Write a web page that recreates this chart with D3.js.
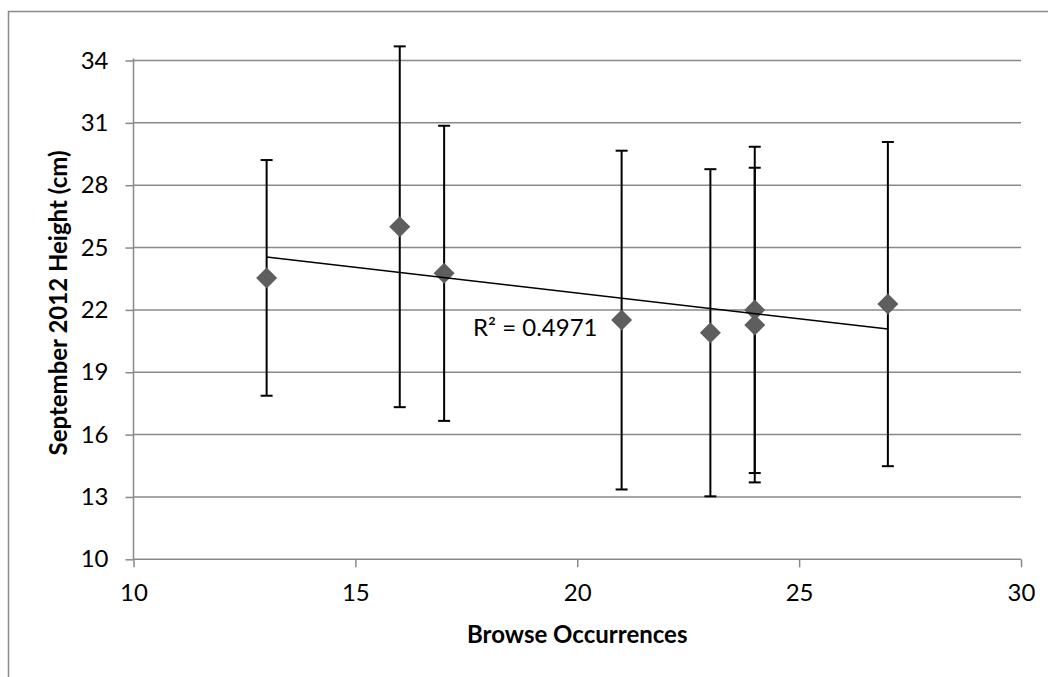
<!DOCTYPE html>
<html>
<head>
<meta charset="utf-8">
<script src="https://cdn.jsdelivr.net/npm/d3@7"></script>
<style>
  html, body { margin: 0; padding: 0; background: #fff; }
  svg { display: block; font-family: Lato, "Open Sans", sans-serif; }
</style>
</head>
<body>
<svg id="chart" width="1048" height="677"></svg>
<script>
// Browse occurrences per plant and mean September 2012 height (cm) with ± error
const browse = [13, 16, 17, 21, 23, 24, 24, 27];
const heights = [23.54, 26.0, 23.76, 21.51, 20.90, 22.0, 21.27, 22.28];
const errors = [5.67, 8.68, 7.10, 8.15, 7.87, 7.85, 7.57, 7.80];

const xTicks = [10, 15, 20, 25, 30];
const yTicks = [10, 13, 16, 19, 22, 25, 28, 31, 34];
const rSquaredLabel = "R² = 0.4971";
const xTitle = "Browse Occurrences";
const yTitle = "September 2012 Height (cm)";

const svg = d3.select("#chart");
const gridColor = "#898989";
const fontSize = 24;

const x = d3.scaleLinear().domain([10, 30]).range([133.5, 1021]);
const y = d3.scaleLinear().domain([10, 34]).range([559.3, 60.5]);

// chart frame
svg.append("rect")
  .attr("x", 8.5).attr("y", 11.5)
  .attr("width", 1100).attr("height", 700)
  .attr("fill", "none").attr("stroke", gridColor).attr("stroke-width", 1.5);

// horizontal gridlines
svg.append("g")
  .selectAll("line")
  .data(yTicks.filter(v => v !== 10))
  .join("line")
  .attr("x1", x(10)).attr("x2", x(30))
  .attr("y1", d => y(d)).attr("y2", d => y(d))
  .attr("stroke", gridColor).attr("stroke-width", 1.5);

// y axis
const yAxis = d3.axisLeft(y).tickValues(yTicks).tickSize(8).tickPadding(17).tickFormat(d3.format("d"));
const gy = svg.append("g").attr("transform", `translate(${x(10)},0)`).call(yAxis);
gy.select(".domain").attr("stroke", gridColor).attr("stroke-width", 1.5)
  .attr("d", `M0,${y(10)}V${y(34) - 2}`);
gy.selectAll(".tick line").attr("stroke", gridColor).attr("stroke-width", 1.5);
gy.selectAll(".tick text").attr("font-size", fontSize).attr("fill", "#000")
  .attr("font-family", "Lato, sans-serif");

// x axis
const xAxis = d3.axisBottom(x).tickValues(xTicks).tickSize(8).tickPadding(17).tickFormat(d3.format("d"));
const gx = svg.append("g").attr("transform", `translate(0,${y(10)})`).call(xAxis);
gx.select(".domain").attr("stroke", gridColor).attr("stroke-width", 1.5)
  .attr("d", `M${x(10)},0H${x(30)}`);
gx.selectAll(".tick line").attr("stroke", gridColor).attr("stroke-width", 1.5);
gx.selectAll(".tick text").attr("font-size", fontSize).attr("fill", "#000")
  .attr("font-family", "Lato, sans-serif");

// axis titles
svg.append("text")
  .attr("x", (x(10) + x(30)) / 2).attr("y", 643)
  .attr("text-anchor", "middle")
  .attr("font-size", fontSize).attr("font-weight", "bold")
  .text(xTitle);

svg.append("text")
  .attr("transform", `translate(67,303) rotate(-90)`)
  .attr("text-anchor", "middle")
  .attr("font-size", fontSize).attr("font-weight", "bold")
  .text(yTitle);

const points = browse.map((b, i) => ({ b, h: heights[i], e: errors[i] }));

// error bars
const eb = svg.append("g").attr("stroke", "#000").attr("stroke-width", 2);
eb.selectAll("line.stem").data(points).join("line").attr("class", "stem")
  .attr("x1", d => x(d.b)).attr("x2", d => x(d.b))
  .attr("y1", d => y(d.h - d.e)).attr("y2", d => y(d.h + d.e));
eb.selectAll("line.cap-top").data(points).join("line").attr("class", "cap-top")
  .attr("x1", d => x(d.b) - 6).attr("x2", d => x(d.b) + 6)
  .attr("y1", d => y(d.h + d.e)).attr("y2", d => y(d.h + d.e));
eb.selectAll("line.cap-bottom").data(points).join("line").attr("class", "cap-bottom")
  .attr("x1", d => x(d.b) - 6).attr("x2", d => x(d.b) + 6)
  .attr("y1", d => y(d.h - d.e)).attr("y2", d => y(d.h - d.e));

// diamond markers
const diamond = d3.symbol().type(d3.symbolSquare).size(220);
svg.append("g").selectAll("path").data(points).join("path")
  .attr("d", diamond)
  .attr("transform", d => `translate(${x(d.b)},${y(d.h)}) rotate(45)`)
  .attr("fill", "#5e5e5e");

// least-squares linear trendline over the data range
const mx = d3.mean(browse), my = d3.mean(heights);
const sxy = d3.sum(browse, (b, i) => (b - mx) * (heights[i] - my));
const sxx = d3.sum(browse, b => (b - mx) * (b - mx));
const slope = sxy / sxx, intercept = my - slope * mx;
const [xmin, xmax] = d3.extent(browse);
const line = d3.line().x(d => x(d)).y(d => y(intercept + slope * d));
svg.append("path")
  .attr("d", line([xmin, xmax]))
  .attr("fill", "none").attr("stroke", "#000").attr("stroke-width", 1.6);

svg.append("text")
  .attr("x", 473).attr("y", 336)
  .attr("font-size", fontSize)
  .text(rSquaredLabel);
</script>
</body>
</html>
